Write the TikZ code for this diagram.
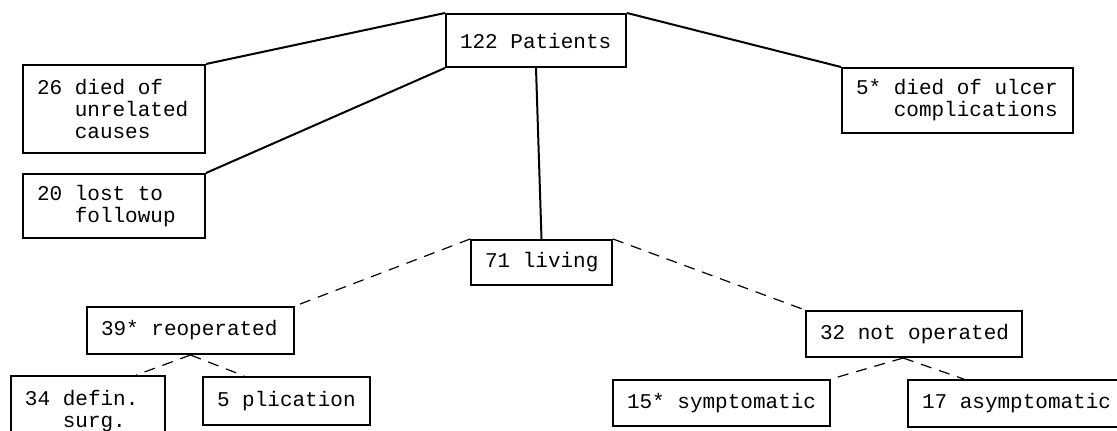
\documentclass[tikz,border=0pt]{standalone}
\usepackage{fontspec}
\usetikzlibrary{calc}
\newfontfamily\macchina[WordSpace={1,0,0}]{Liberation Mono}
\newcommand\rientro{\hphantom{000}}
\newcommand\spazio{\hphantom{0}}
\tikzset{
  box/.style={draw, line width=1pt, inner xsep=7pt, inner ysep=0pt, align=left,
    font=\macchina\fontsize{10.5}{11}\selectfont},
  ramo/.style={line width=1pt},
  tratteggio/.style={line width=0.6pt, dash pattern=on 5.5pt off 4pt}
}
\begin{document}
\begin{tikzpicture}[x=0.5pt,y=0.5pt]
    \useasboundingbox (0,0) rectangle (1117,430);
    \clip (0,0) rectangle (1117,430);

    % Nodi
    \node[box, text width=76pt, minimum height=26.5pt] (pat) at (536,389.5) {122\spazio Patients};
    \node[box, text width=77pt, minimum height=44pt] (unrel) at (114,321) {26\spazio died\spazio of\\\rientro unrelated\\\rientro causes};
    \node[box, text width=77pt, minimum height=32pt] (lost) at (114,224) {20\spazio lost\spazio to\\\rientro followup};
    \node[box, text width=101.5pt, minimum height=32.5pt] (ulcer) at (957.5,329.5) {5*\spazio died\spazio of\spazio ulcer\\\rientro complications};
    \node[box, text width=56.5pt, minimum height=22.5pt] (living) at (541.5,167.5) {71\spazio living};
    \node[box, text width=89.5pt, minimum height=23.5pt] (reop) at (190.5,99.5) {39*\spazio reoperated};
    \node[box, text width=94pt, minimum height=23pt] (notop) at (914,96) {32\spazio not\spazio operated};
    \node[box, text width=63pt, minimum height=35pt] (defin) at (88,19) {34\spazio defin.\\\rientro surg.};
    \node[box, text width=69.5pt, minimum height=24pt] (plic) at (286.5,29) {5\spazio plication};
    \node[box, text width=94.5pt, minimum height=23pt] (symp) at (721.5,27) {15*\spazio symptomatic};
    \node[box, text width=94pt, minimum height=23.5pt] (asymp) at (1016,26.5) {17\spazio asymptomatic};

    % Rami pieni
    \draw[ramo] (pat.north west) -- (unrel.north east);
    \draw[ramo] (pat.south west) -- (lost.north east);
    \draw[ramo] (pat.north east) -- (ulcer.north west);
    \draw[ramo] (pat.south) -- (living.north);

    % Rami tratteggiati
    \draw[tratteggio] (living.north west) -- (reop.north east);
    \draw[tratteggio] (living.north east) -- (notop.north west);
    \draw[tratteggio] (reop.south) -- ($(defin.north west)!0.81!(defin.north east)$);
    \draw[tratteggio] (reop.south) -- ($(plic.north west)!0.25!(plic.north east)$);
    \coordinate (nsplit) at ($(notop.south west)!0.45!(notop.south east)$);
    \draw[tratteggio] (nsplit) -- (symp.north east);
    \draw[tratteggio] (nsplit) -- ($(asymp.north west)!0.26!(asymp.north east)$);
  \end{tikzpicture}
\end{document}
